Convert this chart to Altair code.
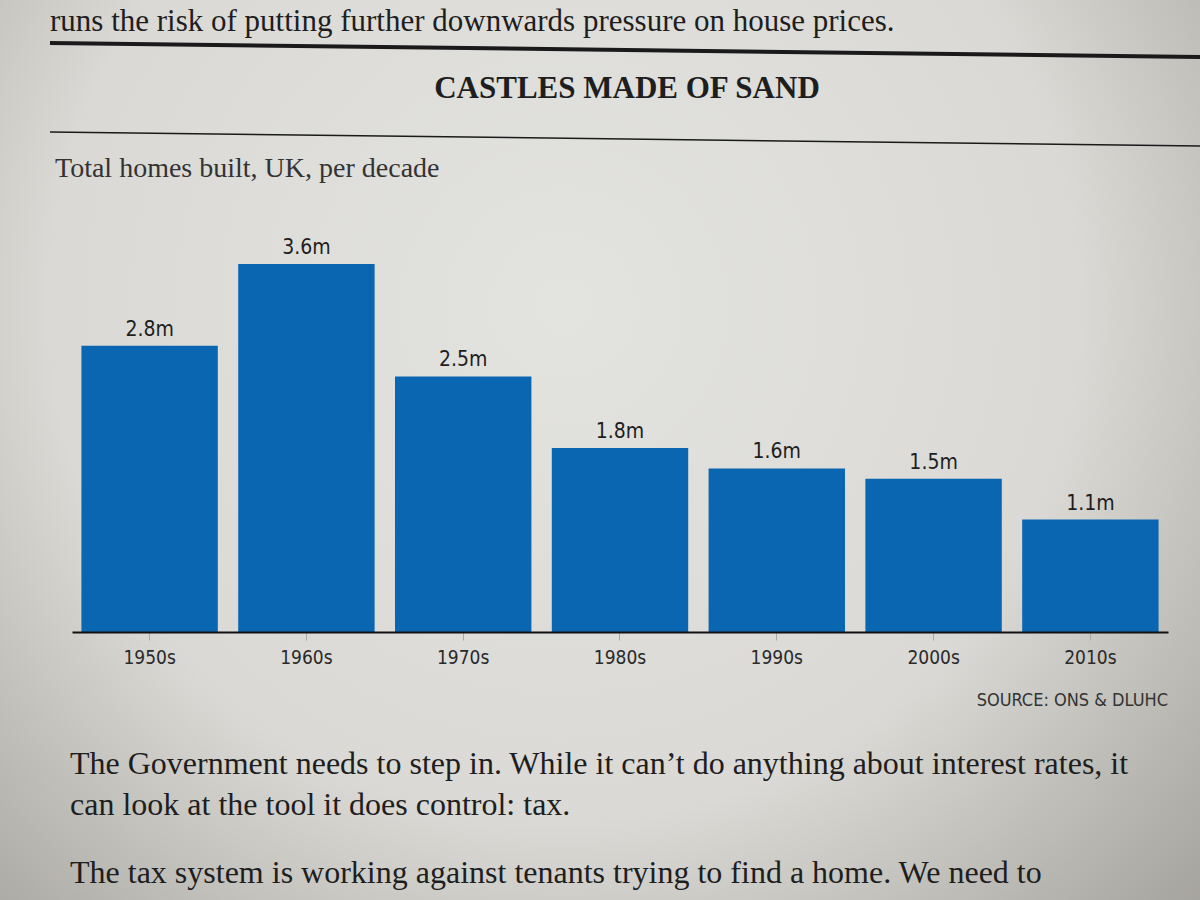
import altair as alt
import pandas as pd

# Homes built in the UK per decade, millions
decades = ["1950s", "1960s", "1970s", "1980s", "1990s", "2000s", "2010s"]
homes_m = [2.8, 3.6, 2.5, 1.8, 1.6, 1.5, 1.1]
bar_labels = [f"{v}m" for v in homes_m]

lead_text = "runs the risk of putting further downwards pressure on house prices."
title_text = "CASTLES MADE OF SAND"
subtitle_text = "Total homes built, UK, per decade"
source_text = "SOURCE: ONS & DLUHC"
body_lines = [
    "The Government needs to step in. While it can\u2019t do anything about interest rates, it",
    "can look at the tool it does control: tax.",
    "The tax system is working against tenants trying to find a home. We need to",
]

BLUE = "#0b66b2"
INK = "#1e1e1e"
SERIF = "Liberation Serif, DejaVu Serif, serif"
SANS = "DejaVu Sans Condensed, Liberation Sans Narrow, sans-serif"

# plot area is 632px tall; the tallest bar (3.6m) reaches 368px above the baseline
Y_TOP = 3.6 * 632 / 368

df = pd.DataFrame({"decade": decades, "homes": homes_m, "label": bar_labels})
one = alt.Data(values=[{}])

# paper background with a soft vignette
paper = alt.Chart(one).mark_rect(
    color={
        "gradient": "radial",
        "x1": 0.47, "y1": 0.38, "r1": 0.0,
        "x2": 0.47, "y2": 0.38, "r2": 0.78,
        "stops": [
            {"offset": 0.0, "color": "#e3e3e0"},
            {"offset": 0.55, "color": "#dad9d5"},
            {"offset": 1.0, "color": "#9c9a93"},
        ],
    }
).encode(x=alt.value(0), x2=alt.value(1200), y=alt.value(0), y2=alt.value(900))

x_enc = alt.X(
    "decade:N",
    sort=decades,
    title=None,
    scale=alt.Scale(range=[72, 1168], paddingInner=0.13, paddingOuter=0.06),
    axis=alt.Axis(
        domainColor="#111111",
        domainWidth=2,
        tickColor="#a9a9a6",
        tickWidth=1,
        tickSize=8,
        labelFont=SANS,
        labelFontSize=19,
        labelColor="#2a2a2a",
        labelPadding=8,
        labelAngle=0,
        grid=False,
        zindex=2,
    ),
)
y_enc = alt.Y("homes:Q", scale=alt.Scale(domain=[0, Y_TOP], nice=False, zero=True), axis=None)

bars = alt.Chart(df).mark_bar(color=BLUE).encode(x=x_enc, y=y_enc)

values = alt.Chart(df).mark_text(
    font=SANS, fontSize=21, color=INK, baseline="bottom", dy=-6
).encode(x=alt.X("decade:N", sort=decades), y="homes:Q", text="label:N")


def note(text, x, y, size, font, align="left", weight="normal", color=INK):
    return alt.Chart(one).mark_text(
        text=text, font=font, fontSize=size, fontWeight=weight,
        align=align, baseline="alphabetic", color=color,
    ).encode(x=alt.value(x), y=alt.value(y))


thick_rule = alt.Chart(one).mark_rule(color="#1a1a1a", strokeWidth=4).encode(
    x=alt.value(50), y=alt.value(43), x2=alt.value(1200), y2=alt.value(57)
)
thin_rule = alt.Chart(one).mark_rule(color="#1a1a1a", strokeWidth=1.5).encode(
    x=alt.value(50), y=alt.value(132), x2=alt.value(1200), y2=alt.value(146)
)

texts = [
    note(lead_text, 50, 31, 31, SERIF),
    note(title_text, 627, 98, 31, SERIF, align="center", weight="bold"),
    note(subtitle_text, 55, 177, 28, SERIF, color="#333333"),
    note(source_text, 1168, 706, 18, SANS, align="right", color="#333333"),
    note(body_lines[0], 70, 774, 32, SERIF),
    note(body_lines[1], 70, 815, 32, SERIF),
    note(body_lines[2], 70, 883, 32, SERIF),
]

chart = alt.layer(
    paper, thick_rule, thin_rule, bars, values, *texts
).properties(
    width=1200,
    height=632,
    padding={"left": 0, "right": 0, "top": 0, "bottom": 268},
    autosize=alt.AutoSizeParams(type="none"),
    background="#dcdbd7",
).configure_view(stroke=None)

chart.save("out.html", embed_options={"renderer": "svg", "actions": False})
